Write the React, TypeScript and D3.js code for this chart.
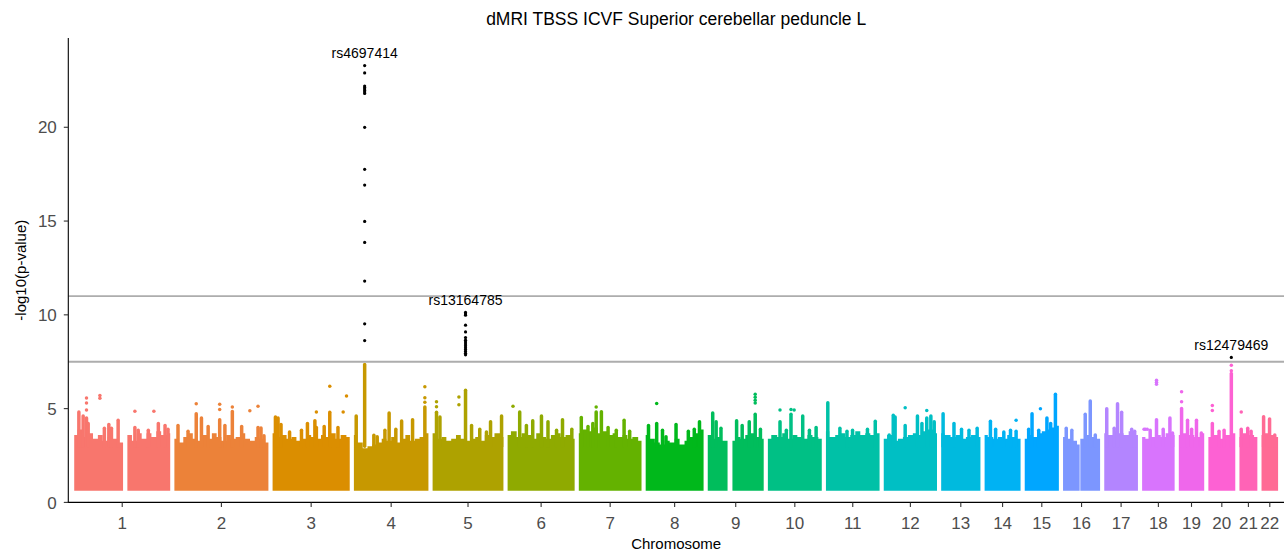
import React from "react";
import * as d3 from "d3";

// ---------------- data ----------------
const CHROMOSOMES = ["1","2","3","4","5","6","7","8","9","10","11","12","13","14","15","16","17","18","19","20","21","22"];
const CHR_FIRST_MB = [0.7, 0.01, 0.06, 0.07, 0.02, 0.2, 0.04, 0.16, 0.2, 0.1, 0.2, 0.15, 19.0, 20.1, 20.1, 0.08, 0.01, 0.01, 0.25, 0.06, 9.4, 16.1];
const CHR_LAST_MB = [249.2, 243.2, 197.9, 190.9, 180.9, 170.9, 159.1, 146.3, 141.1, 135.5, 134.9, 133.8, 115.1, 107.3, 102.4, 90.2, 81.1, 78.0, 59.1, 62.9, 48.1, 51.2];
const CHR_GAP_MB = 20.6;
// regions without SNPs (chr, from Mb, to Mb)
const NO_SNP_REGIONS: [number, number, number][] = [[1, 122.5, 143.5], [9, 44, 66.5], [16, 35.3, 46.5]];
// lowest plotted -log10(p)
const BAND_FLOOR = 0.72;
// upper edge of the dense cloud of SNPs, sampled evenly along each chromosome
const BAND_TOP: number[][] = [
  [3.5, 3.8, 3.4, 3.6, 3.3, 3.5, 3.2, 3.4, 3.3, 3.1, 3.4, 3.5, 3.2, 3.6, 3.3, 3.6, 3.4, 3.7, 3.5, 3.6],
  [3.3, 3.1, 3.4, 3.6, 3.3, 3.2, 3.5, 3.3, 3.6, 3.4, 3.2, 3.5, 3.3, 3.4, 3.6, 3.3, 3.2, 3.4, 3.3, 3.1],
  [3.6, 3.4, 3.5, 3.3, 3.4, 3.2, 3.3, 3.5, 3.4, 3.3, 3.5, 3.4, 3.6, 3.3, 3.5, 3.4],
  [3.5, 3.1, 2.8, 2.9, 3.0, 3.1, 3.3, 3.2, 3.4, 3.1, 3.3, 3.5, 3.2, 3.3, 3.4, 3.6],
  [3.6, 3.3, 3.4, 3.2, 3.3, 3.5, 3.3, 3.2, 3.3, 3.4, 3.2, 3.5, 3.4, 3.6, 3.4],
  [3.5, 3.7, 3.4, 3.6, 3.5, 3.3, 3.6, 3.4, 3.3, 3.5, 3.6, 3.4, 3.5, 3.3],
  [3.6, 3.8, 3.7, 3.9, 3.6, 3.7, 3.5, 3.6, 3.4, 3.5, 3.3, 3.4, 3.2],
  [3.5, 3.3, 3.1, 3.0, 3.2, 3.1, 3.3, 3.0, 3.2, 3.4, 3.6, 3.8],
  [3.5, 3.3, 3.4, 3.2, 3.1, 3.2, 3.4, 3.3, 3.5, 3.6, 3.4, 3.3],
  [3.3, 3.5, 3.4, 3.6, 3.3, 3.5, 3.4, 3.3, 3.5, 3.4, 3.3],
  [3.7, 3.4, 3.5, 3.6, 3.4, 3.5, 3.7, 3.5, 3.6, 3.5, 3.6],
  [3.3, 3.5, 3.2, 3.3, 3.4, 3.5, 3.6, 3.5, 3.7, 3.8, 3.6],
  [3.6, 3.5, 3.4, 3.5, 3.3, 3.4, 3.5, 3.4],
  [3.5, 3.4, 3.3, 3.4, 3.3, 3.5, 3.4, 3.3],
  [3.3, 3.5, 3.4, 3.6, 3.7, 3.8, 3.9, 4.0],
  [3.4, 3.3, 3.2, 3.0, 3.3, 3.5, 3.4, 3.3],
  [3.6, 3.5, 3.7, 3.6, 3.5, 3.7, 3.5],
  [3.4, 3.3, 3.4, 3.5, 3.4, 3.6, 3.5],
  [3.5, 3.6, 3.5, 3.4, 3.6],
  [3.4, 3.5, 3.3, 3.5, 3.6],
  [3.4, 3.6, 3.5, 3.4],
  [3.5, 3.6, 3.5, 3.4],
];
// stacks of SNPs in LD: chr, position (Mb), top -log10(p)
const LD_COLUMNS: [number, number, number][] = [
  [1, 8.5, 4.82], [1, 20, 4.6], [1, 29, 4.5], [1, 33.5, 4.2], [1, 77, 3.95], [1, 89, 4.15], [1, 96, 3.95], [1, 114, 4.38], [1, 159, 4.0], [1, 168, 3.85], [1, 195, 3.85], [1, 222, 4.2], [1, 240, 4.1], [1, 248, 3.9],
  [2, 5, 4.1], [2, 32, 3.8], [2, 54, 4.73], [2, 68, 4.5], [2, 86, 4.05], [2, 117, 4.4], [2, 131, 4.1], [2, 151, 4.85], [2, 176, 4.05], [2, 220, 4.0], [2, 228, 3.97], [2, 236, 3.55],
  [3, 3, 4.55], [3, 10, 4.5], [3, 18, 4.15], [3, 41, 3.75], [3, 73, 3.85], [3, 89, 4.2], [3, 109, 4.35], [3, 113, 4.0], [3, 134, 4.05], [3, 149, 4.8], [3, 171, 4.0],
  [4, 1.6, 4.6], [4, 24.3, 7.35], [4, 49, 3.58], [4, 58, 3.5], [4, 78.7, 3.85], [4, 90, 4.77], [4, 108, 3.9], [4, 123.6, 4.34], [4, 153, 4.4], [4, 186, 5.09],
  [5, 5.8, 4.8], [5, 15, 4.55], [5, 83.8, 5.98], [5, 100, 4.1], [5, 122, 3.9], [5, 140, 3.75], [5, 151, 4.3], [5, 180.6, 4.6],
  [6, 28, 4.82], [6, 46, 4.1], [6, 63, 4.35], [6, 86.5, 4.6], [6, 104, 4.3], [6, 127, 3.85], [6, 143, 4.4], [6, 168, 3.9],
  [7, 2, 4.52], [7, 20, 4.05], [7, 33, 4.2], [7, 42, 4.82], [7, 56, 4.83], [7, 74, 4.0], [7, 96, 3.85], [7, 117, 4.38], [7, 132, 3.8],
  [8, 3, 4.1], [8, 25, 4.2], [8, 40.6, 3.85], [8, 50, 3.5], [8, 77, 4.15], [8, 110, 3.8], [8, 126, 3.9], [8, 140, 4.3],
  [9, 8.8, 4.77], [9, 18, 4.3], [9, 31, 3.95], [9, 73, 4.35], [9, 88, 4.1], [9, 107, 4.3], [9, 123, 4.7], [9, 137, 3.9],
  [10, 28, 4.3], [10, 45, 3.85], [10, 57.5, 4.7], [10, 89, 4.6], [10, 107, 3.85], [10, 125, 4.0],
  [11, 0.5, 5.31], [11, 33, 3.95], [11, 52, 3.8], [11, 67, 3.85], [11, 107, 3.9], [11, 128, 4.33],
  [12, 10, 3.6], [12, 21, 4.65], [12, 26, 4.55], [12, 53, 4.1], [12, 86, 4.6], [12, 98, 4.2], [12, 111, 4.5], [12, 122, 4.6], [12, 131, 4.3],
  [13, 19.5, 4.73], [13, 48.7, 4.2], [13, 69, 3.9], [13, 89, 3.85], [13, 111, 3.95],
  [14, 31, 4.33], [14, 45, 3.9], [14, 67, 3.75], [14, 85, 3.85], [14, 100, 3.8],
  [15, 26, 3.9], [15, 35, 4.73], [15, 53, 3.85], [15, 75, 4.5], [15, 85, 4.2], [15, 97.8, 5.77],
  [16, 4, 3.95], [16, 19, 3.85], [16, 55, 4.7], [16, 68.5, 5.41], [16, 82, 3.6],
  [17, 2, 4.99], [17, 22, 3.95], [17, 31, 5.26], [17, 42, 4.8], [17, 69, 3.9], [17, 77, 3.8],
  [18, 17, 3.85], [18, 34, 4.4], [18, 52, 3.9], [18, 70, 4.5], [18, 77, 3.7],
  [19, 3, 5.0], [19, 19, 4.38], [19, 30, 3.9], [19, 43, 4.38], [19, 56, 3.7],
  [20, 6, 4.2], [20, 24, 3.8], [20, 37.6, 3.85], [20, 57, 6.87],
  [21, 9.5, 3.9], [21, 27, 3.95], [21, 36, 3.8],
  [22, 17, 4.56], [22, 33, 4.45], [22, 47, 3.6],
];
const LD_COLUMN_BASE = 3.0;
// isolated SNPs above the cloud: chr, position (Mb), -log10(p)
const SINGLE_SNPS: [number, number, number][] = [
  [1, 29, 5.57], [1, 29, 5.3], [1, 29, 4.92], [1, 65, 5.7], [1, 65, 5.55], [1, 159, 4.86], [1, 210, 4.86],
  [2, 54, 5.26], [2, 117, 5.23], [2, 117, 4.95], [2, 151, 5.09], [2, 198, 4.88], [2, 220, 5.12],
  [3, 113, 4.82], [3, 149, 6.19], [3, 185, 4.82], [3, 194, 5.67],
  [4, 186, 6.16], [4, 186, 5.58], [4, 186, 5.34],
  [5, 5.8, 5.36], [5, 5.8, 5.1], [5, 66, 5.62], [5, 66, 5.2],
  [6, 10, 5.13],
  [7, 42, 5.09],
  [8, 25, 5.27],
  [9, 123, 5.77], [9, 123, 5.6], [9, 123, 5.45], [9, 123, 5.3],
  [10, 28, 4.92], [10, 57.5, 4.95], [10, 66, 4.93],
  [12, 53, 5.04], [12, 111, 4.9],
  [14, 100, 4.38],
  [15, 57.5, 4.99],
  [18, 0.5, 3.9], [18, 4, 3.9], [18, 9, 3.9], [18, 34, 6.51], [18, 34, 6.4], [18, 34, 6.3],
  [19, 3, 5.9], [19, 3, 5.37],
  [20, 6, 5.17], [20, 6, 4.9], [20, 57, 7.31], [20, 57, 7.02],
  [21, 9.5, 4.82],
];
// genome-wide significant SNPs (p < 5e-8): chr, position (Mb), -log10(p)
const SIGNIFICANT_SNPS: [number, number, number][] = [
  [4, 24.3, 23.29], [4, 24.3, 22.9], [4, 24.3, 22.2], [4, 24.3, 22.12], [4, 24.3, 22.04], [4, 24.3, 21.96], [4, 24.3, 21.88], [4, 24.3, 21.8],
  [4, 24.3, 20.0], [4, 24.3, 17.76], [4, 24.3, 16.92], [4, 24.3, 14.98], [4, 24.3, 13.86], [4, 24.3, 11.8], [4, 24.3, 9.52], [4, 24.3, 8.63],
  [5, 83.8, 10.13], [5, 83.8, 10.05], [5, 83.8, 9.98], [5, 83.8, 9.45], [5, 83.8, 9.09], [5, 83.8, 8.79], [5, 83.8, 8.65], [5, 83.8, 8.55],
  [5, 83.8, 8.45], [5, 83.8, 8.35], [5, 83.8, 8.25], [5, 83.8, 8.15], [5, 83.8, 8.05], [5, 83.8, 7.95], [5, 83.8, 7.87],
  [20, 57, 7.73],
];
const LEAD_SNP_IDS = ["rs4697414", "rs13164785", "rs12479469"];
const LEAD_SNP_CHR = [4, 5, 20];
const LEAD_SNP_MB = [24.3, 83.8, 57];
const LEAD_SNP_LOGP = [23.29, 10.13, 7.73];
const THRESHOLDS = [11.0, 7.5];
const Y_TICKS = [0, 5, 10, 15, 20];
const Y_MAX = 24.76;

const TITLE = "dMRI TBSS ICVF Superior cerebellar peduncle L";
const X_TITLE = "Chromosome";
const Y_TITLE = "-log10(p-value)";

// ---------------- helpers ----------------
function hclColor(h: number, c: number, l: number): string {
  const hr = (h * Math.PI) / 180;
  const U = c * Math.cos(hr), V = c * Math.sin(hr);
  const Xn = 95.047, Yn = 100, Zn = 108.883;
  const Y = l > 8 ? Yn * Math.pow((l + 16) / 116, 3) : (Yn * l) / 903.3;
  const t = Xn + 15 * Yn + 3 * Zn;
  const un = (4 * Xn) / t, vn = (9 * Yn) / t;
  const up = U / (13 * l) + un, vp = V / (13 * l) + vn;
  const X = (9 * Y * up) / (4 * vp);
  const Z = -X / 3 - 5 * Y + (3 * Y) / vp;
  const x = X / 100, y = Y / 100, z = Z / 100;
  const lin = [
    3.240479 * x - 1.53715 * y - 0.498535 * z,
    -0.969256 * x + 1.875992 * y + 0.041556 * z,
    0.055648 * x - 0.204043 * y + 1.057311 * z,
  ];
  const g = lin.map((v) => {
    const s = v <= 0.0031308 ? 12.92 * v : 1.055 * Math.pow(v, 1 / 2.4) - 0.055;
    return Math.round(Math.max(0, Math.min(1, s)) * 255);
  });
  return d3.rgb(g[0], g[1], g[2]).formatHex();
}

const W = 1285, H = 558;
const PANEL = { left: 68.3, right: 1284, top: 38, bottom: 502.4 };
const R = 1.75;
const FONT = "'Liberation Sans', Arial, Helvetica, sans-serif";

export default function App() {
  const n = CHROMOSOMES.length;
  const spans = CHROMOSOMES.map((_, i) => CHR_LAST_MB[i] - CHR_FIRST_MB[i]);
  const offsets: number[] = [];
  let acc = 0;
  for (let i = 0; i < n; i++) { offsets.push(acc); acc += spans[i] + CHR_GAP_MB; }
  const total = acc - CHR_GAP_MB;

  const x = d3.scaleLinear().domain([-CHR_GAP_MB, total + CHR_GAP_MB]).range([PANEL.left, PANEL.right]);
  const y = d3.scaleLinear().domain([0, Y_MAX]).range([PANEL.bottom, PANEL.top]);
  const cum = (chr: number, mb: number) => offsets[chr - 1] + (mb - CHR_FIRST_MB[chr - 1]);
  const px = (chr: number, mb: number) => x(cum(chr, mb));

  const hues = d3.range(n).map((i) => 15 + (i * 360) / n);
  const colors = hues.map((h) => hclColor(h, 100, 65));

  const area = d3.area<[number, number]>()
    .x((d) => d[0])
    .y0(y(BAND_FLOOR) + R)
    .y1((d) => d[1])
    .curve(d3.curveStep);

  const bands: { d: string; color: string }[] = [];
  CHROMOSOMES.forEach((_, i) => {
    const chr = i + 1;
    const first = CHR_FIRST_MB[i], last = CHR_LAST_MB[i];
    const tops = BAND_TOP[i];
    const m = tops.length;
    const step = (last - first) / (m - 1);
    const valAt = (mb: number) => tops[Math.max(0, Math.min(m - 1, Math.round((mb - first) / step)))];
    const cuts = NO_SNP_REGIONS.filter((g) => g[0] === chr);
    const segs: [number, number][] = [];
    let s = first;
    cuts.forEach((c) => { segs.push([s, c[1]]); s = c[2]; });
    segs.push([s, last]);
    segs.forEach(([a, b]) => {
      const pts: [number, number][] = [];
      pts.push([px(chr, a) - R, y(valAt(a)) - R]);
      for (let j = 0; j < m; j++) {
        const mb = first + j * step;
        if (mb > a && mb < b) pts.push([px(chr, mb), y(tops[j]) - R]);
      }
      pts.push([px(chr, b) + R, y(valAt(b)) - R]);
      bands.push({ d: area(pts) || "", color: colors[i] });
    });
  });

  const ticks = CHROMOSOMES.map((name, i) => ({ name, x: x(offsets[i] + spans[i] / 2) }));
  const tickColor = "#333333";
  const tickText = "#4D4D4D";

  return (
    <svg width={W} height={H} style={{ position: "absolute", left: 0, top: 0, background: "#fff" }} fontFamily={FONT}>
      <rect x={0} y={0} width={W} height={H} fill="#fff" />
      {bands.map((b, i) => (
        <path key={"b" + i} d={b.d} fill={b.color} />
      ))}
      {LD_COLUMNS.map(([chr, mb, top], i) => (
        <line key={"c" + i} x1={px(chr, mb)} x2={px(chr, mb)} y1={y(LD_COLUMN_BASE)} y2={y(top)}
          stroke={colors[chr - 1]} strokeWidth={R * 2} strokeLinecap="round" />
      ))}
      {SINGLE_SNPS.map(([chr, mb, v], i) => (
        <circle key={"p" + i} cx={px(chr, mb)} cy={y(v)} r={R} fill={colors[chr - 1]} />
      ))}
      {THRESHOLDS.map((t, i) => (
        <line key={"t" + i} x1={PANEL.left} x2={PANEL.right} y1={y(t)} y2={y(t)} stroke="#ADADAD" strokeWidth={1.9} />
      ))}
      {SIGNIFICANT_SNPS.map(([chr, mb, v], i) => (
        <circle key={"s" + i} cx={px(chr, mb)} cy={y(v)} r={1.6} fill="#000" />
      ))}
      {LEAD_SNP_IDS.map((id, i) => (
        <text key={"l" + i} x={px(LEAD_SNP_CHR[i], LEAD_SNP_MB[i])} y={y(LEAD_SNP_LOGP[i]) - 7.5}
          textAnchor="middle" fontSize={14} fill="#000">{id}</text>
      ))}
      <line x1={PANEL.left} x2={PANEL.left} y1={PANEL.top} y2={PANEL.bottom + 0.5} stroke="#000" strokeWidth={1.1} />
      <line x1={PANEL.left - 0.5} x2={PANEL.right} y1={PANEL.bottom} y2={PANEL.bottom} stroke="#000" strokeWidth={1.1} />
      {Y_TICKS.map((t) => (
        <g key={"yt" + t}>
          <line x1={PANEL.left - 4.5} x2={PANEL.left} y1={y(t)} y2={y(t)} stroke={tickColor} strokeWidth={1.1} />
          <text x={PANEL.left - 11.5} y={y(t)} dy="0.36em" textAnchor="end" fontSize={17} fill={tickText}>{t}</text>
        </g>
      ))}
      {ticks.map((t) => (
        <g key={"xt" + t.name}>
          <line x1={t.x} x2={t.x} y1={PANEL.bottom} y2={PANEL.bottom + 4.5} stroke={tickColor} strokeWidth={1.1} />
          <text x={t.x} y={528.5} textAnchor="middle" fontSize={17} fill={tickText}>{t.name}</text>
        </g>
      ))}
      <text x={(PANEL.left + PANEL.right) / 2} y={549} textAnchor="middle" fontSize={15} fill="#000">{X_TITLE}</text>
      <text transform={`translate(26, ${(PANEL.top + PANEL.bottom) / 2}) rotate(-90)`} textAnchor="middle" fontSize={15} fill="#000">{Y_TITLE}</text>
      <text x={(PANEL.left + PANEL.right) / 2} y={25} textAnchor="middle" fontSize={17.5} fill="#000">{TITLE}</text>
    </svg>
  );
}
